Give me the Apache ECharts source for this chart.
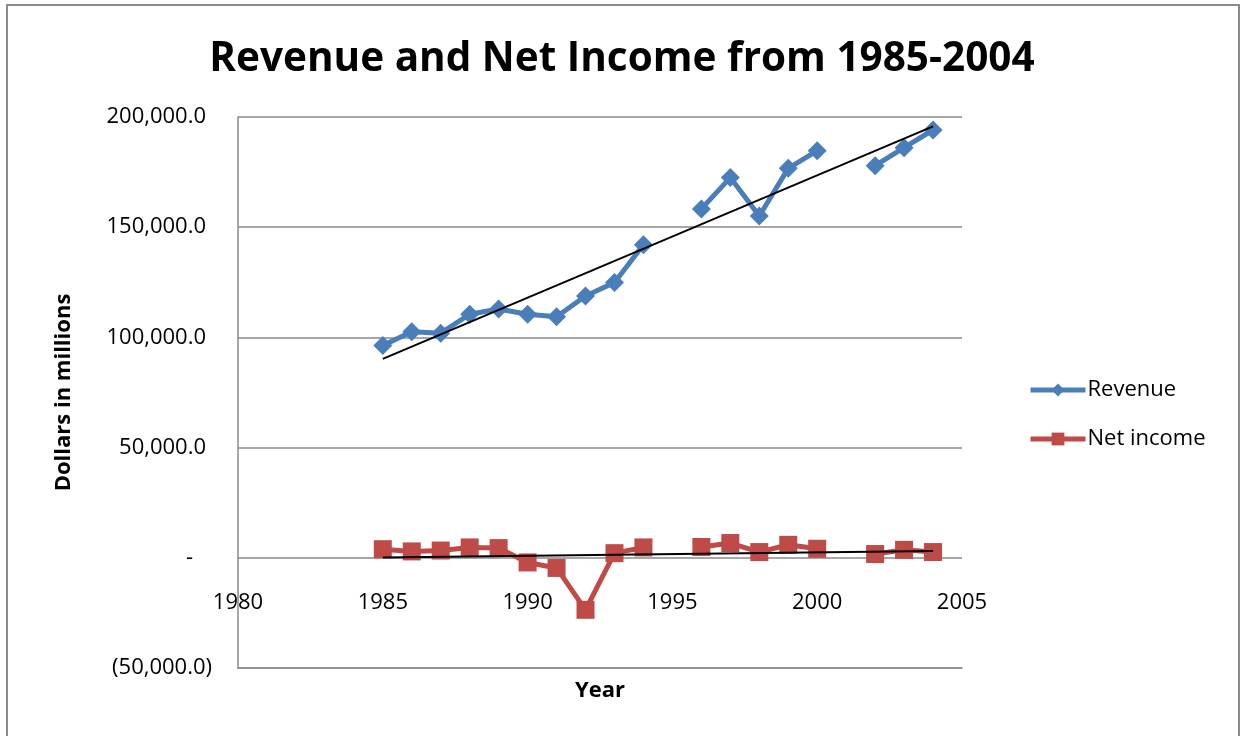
<!DOCTYPE html>
<html>
<head>
<meta charset="utf-8">
<script src="https://cdn.jsdelivr.net/npm/echarts@6/dist/echarts.min.js"></script>
<style>
html,body{margin:0;padding:0;background:#fff;}
#chart{width:1244px;height:736px;}
</style>
</head>
<body>
<div id="chart"></div>
<script>
const years = [1985,1986,1987,1988,1989,1990,1991,1992,1993,1994,1995,1996,1997,1998,1999,2000,2001,2002,2003,2004];
const revenue = [96300,102600,101900,110500,112900,110500,109400,118800,124900,142000,null,158300,172500,155100,176700,184700,null,177900,186100,194100];
const netIncome = [3900,2900,3300,4700,4400,-2100,-4600,-23600,2100,4700,null,4900,6700,2600,5900,4100,null,1700,3600,2600];
const yTicks = [-50000,0,50000,100000,150000,200000];
const xTicks = [1980,1985,1990,1995,2000,2005];

function pairs(vals){ return years.map((y,i)=>[y, vals[i]]); }
function trend(vals){
  const pts = years.map((y,i)=>[y,vals[i]]).filter(p=>p[1]!==null);
  const n = pts.length;
  const mx = pts.reduce((s,p)=>s+p[0],0)/n;
  const my = pts.reduce((s,p)=>s+p[1],0)/n;
  let sxy=0,sxx=0;
  pts.forEach(p=>{sxy+=(p[0]-mx)*(p[1]-my); sxx+=(p[0]-mx)*(p[0]-mx);});
  const b = sxy/sxx, a = my-b*mx;
  const x0 = pts[0][0], x1 = pts[n-1][0];
  return [[x0,a+b*x0],[x1,a+b*x1]];
}
function fmtY(v){
  if (v === 0) return '{z|-}';
  const s = Math.abs(v).toLocaleString('en-US',{minimumFractionDigits:1,maximumFractionDigits:1});
  return v < 0 ? '(' + s + ')' : '{p|' + s + '}';
}

const FONT = 'Open Sans';
const chart = echarts.init(document.getElementById('chart'), null, {renderer:'canvas'});
chart.setOption({
  animation:false,
  backgroundColor:'#fff',
  textStyle:{fontFamily:FONT},
  title:{
    text:'Revenue and Net Income from 1985-2004',
    left:'center', top:34,
    textStyle:{fontFamily:FONT,fontWeight:'bold',fontSize:40.5,color:'#000'}
  },
  graphic:[{
    type:'rect', shape:{x:7,y:5,width:1232,height:740},
    style:{fill:null,stroke:'#8a8a8a',lineWidth:2}, silent:true, z:-1
  }],
  legend:{
    orient:'vertical', left:1028, top:379, padding:0, itemWidth:55, itemHeight:16, itemGap:27,
    data:['Revenue','Net income'],
    lineStyle:{width:5},
    textStyle:{fontFamily:FONT,fontSize:22,color:'#000',padding:[0,0,0,-3]}
  },
  grid:{left:238,right:282,top:117,bottom:68,containLabel:false,outerBoundsMode:'none'},
  xAxis:{
    type:'value', min:1980, max:2005, interval:5,
    name:'Year', nameLocation:'middle', nameGap:12,
    nameTextStyle:{fontFamily:FONT,fontWeight:'bold',fontSize:22,color:'#000'},
    axisLine:{show:true,onZero:false,lineStyle:{color:'#8a8a8a',width:1.5}},
    axisTick:{show:false},
    splitLine:{show:false},
    axisLabel:{margin:-76,fontFamily:FONT,fontSize:22,color:'#000',formatter:v=>String(v)}
  },
  yAxis:{
    type:'value', min:-50000, max:200000, interval:50000,
    name:'Dollars in millions', nameLocation:'middle', nameGap:163, nameRotate:90,
    nameTextStyle:{fontFamily:FONT,fontWeight:'bold',fontSize:22,color:'#000'},
    axisLine:{show:true,lineStyle:{color:'#8a8a8a',width:1.5}},
    axisTick:{show:false},
    splitLine:{show:true,lineStyle:{color:'#8a8a8a',width:1.5}},
    axisLabel:{margin:26,fontFamily:FONT,fontSize:22,color:'#000',formatter:fmtY,
      rich:{z:{fontFamily:FONT,fontSize:22,color:'#000',padding:[0,19,0,0]},
            p:{fontFamily:FONT,fontSize:22,color:'#000',padding:[0,6,0,0]}}}
  },
  series:[
    {name:'Revenue', type:'line', data:pairs(revenue), connectNulls:false,
     symbol:'diamond', symbolSize:19, color:'#4A7EBB',
     lineStyle:{width:5,color:'#4A7EBB'}, itemStyle:{color:'#4A7EBB'}, z:2},
    {name:'Net income', type:'line', data:pairs(netIncome), connectNulls:false,
     symbol:'rect', symbolSize:18, color:'#BE4B48',
     lineStyle:{width:5,color:'#BE4B48'}, itemStyle:{color:'#BE4B48'}, z:2},
    {name:'rev-trend', type:'line', data:trend(revenue), symbol:'none',
     lineStyle:{width:2,color:'#000'}, z:5, silent:true},
    {name:'ni-trend', type:'line', data:trend(netIncome), symbol:'none',
     lineStyle:{width:2,color:'#000'}, z:5, silent:true}
  ]
});
</script>
</body>
</html>
